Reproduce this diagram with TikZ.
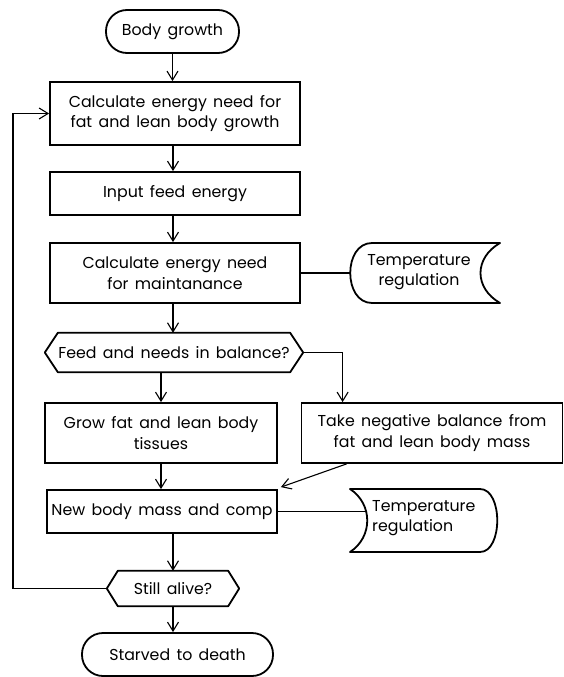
\documentclass[tikz,border=0pt]{standalone}
\usepackage{fontspec}
\setmainfont{Poppins}[WordSpace=1.5]
\usetikzlibrary{arrows.meta,calc}
\begin{document}
\begin{tikzpicture}[x=1pt,y=-1pt,
  every node/.style={font=\fontsize{15.8}{20.5}\selectfont, inner sep=0pt, align=center},
  procbox/.style={draw, line width=1.8pt, minimum width=#1},
  term/.style={draw, line width=1.8pt, rounded corners=21pt, minimum height=43pt, minimum width=#1},
  shapeline/.style={line width=1.8pt, line join=round},
  conn/.style={line width=1.1pt},
  arr/.style={conn, -{Straight Barb[length=9pt,width=11pt,line width=1.1pt]}}
]
\useasboundingbox (0,0) rectangle (564,677);

% terminals and boxes
\node[term=133pt] (bg) at (172.5,31.5) {Body growth};
\node[procbox=250pt, minimum height=63pt] (b1) at (175,113.5) {Calculate energy need for\\fat and lean body growth};
\node[procbox=250pt, minimum height=43pt] (b2) at (175,193.5) {Input feed energy};
\node[procbox=250pt, minimum height=60pt] (b3) at (175,273) {Calculate energy need\\for maintanance};
\node[procbox=232pt, minimum height=60pt] (b4) at (161,433) {Grow fat and lean body\\tissues};
\node[procbox=261pt, minimum height=60pt] (b5) at (432,433) {Take negative balance from\\fat and lean body mass};
\node[procbox=230pt, minimum height=43pt] (b6) at (162,511.5) {New body mass and comp};
\node[term=191pt] (s) at (177.5,654.5) {Starved to death};

% decision hexagons
\node[minimum width=232pt, minimum height=39pt] (h1) at (174,352.5) {Feed and needs in balance?};
\draw[shapeline] (h1.north west) -- (h1.north east) -- ($(h1.east)+(13,0)$) coordinate (h1e)
  -- (h1.south east) -- (h1.south west) -- ($(h1.west)+(-13,0)$) -- cycle;
\node[minimum width=110pt, minimum height=35pt] (h2) at (173,588.5) {Still alive?};
\draw[shapeline] (h2.north west) -- (h2.north east) -- ($(h2.east)+(11,0)$)
  -- (h2.south east) -- (h2.south west) -- ($(h2.west)+(-11,0)$) coordinate (h2w) -- cycle;

% temperature regulation (stored data shapes)
\node (t1) at (419,272) {Temperature\\regulation};
\draw[shapeline] (372,243) -- (500,243) .. controls (474,258) and (474,288) .. (500,303)
  -- (372,303) .. controls (343,303) and (343,243) .. (372,243) -- cycle;
\coordinate (t1w) at (350,273);
\node[anchor=west, align=left] (t2) at (372,518) {Temperature\\regulation};
\draw[shapeline] (350,489) -- (480,489) .. controls (503,489) and (503,552) .. (480,552)
  -- (350,552) .. controls (373,537) and (373,504) .. (350,489) -- cycle;
\coordinate (t2w) at (366.5,511.5);

% connectors
\draw[arr] (bg.south) -- (bg.south |- b1.north);
\draw[arr] ($(b2.north |- b1.south)+(-2,0)$) -- ($(b2.north)+(-2,0)$);
\draw[arr] ($(b3.north |- b2.south)+(-2,0)$) -- ($(b3.north)+(-2,0)$);
\draw[arr] ($(h1.north |- b3.south)+(-1,0)$) -- ($(h1.north)+(-1,0)$);
\draw[conn] (b3.east) -- (t1w);
\draw[arr] (b4.north |- h1.south) -- (b4.north);
\coordinate (b5in) at ($(b5.north west)+(42,0)$);
\draw[arr] (h1e) -| (b5in);
\draw[arr] (b4.south) -- (b4.south |- b6.north);
\draw[arr] ($(b5.south west)+(46,0)$) -- ($(b6.north east)+(3,-2)$);
\draw[conn] (b6.east) -- (t2w);
\draw[arr] (h2.north |- b6.south) -- (h2.north);
\draw[arr] (h2.south) -- (h2.south |- s.north);
\draw[arr] (h2w) -- (13,588.5) |- (b1.west);
\end{tikzpicture}
\end{document}
